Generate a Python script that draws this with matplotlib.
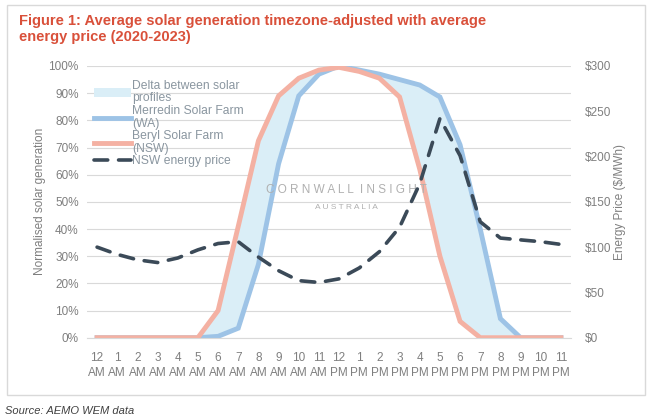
import matplotlib.pyplot as plt
from matplotlib.patches import Rectangle
from matplotlib.ticker import FuncFormatter, MultipleLocator

plt.rcParams['font.family'] = ['Liberation Sans', 'DejaVu Sans']

hours = ['12', '1', '2', '3', '4', '5', '6', '7', '8', '9', '10', '11',
         '12', '1', '2', '3', '4', '5', '6', '7', '8', '9', '10', '11']
ampm = ['AM'] * 12 + ['PM'] * 12

# normalised generation (%)
merredin = [0, 0, 0, 0, 0, 0, 0.5, 3.5, 27, 64, 89, 97,
            100, 98.5, 97, 95, 93, 88.6, 71, 40, 7, 0, 0, 0]
beryl = [0, 0, 0, 0, 0, 0, 10, 41, 72.5, 89, 95.5, 98.5,
         99.5, 98, 95.5, 88.6, 62, 30, 6, 0, 0, 0, 0, 0]
# NSW energy price ($/MWh)
price = [100, 92, 86, 83, 88, 97, 104, 106, 89, 74, 63, 61,
         65, 77, 95, 122, 170, 242, 201, 128, 110, 108, 106, 103]

x = list(range(len(hours)))
grey = '#7f7f7f'

fig = plt.figure(figsize=(6.53, 4.20), dpi=100)
fig.patches.append(Rectangle((7 / 653, 1 - 395 / 420), 638 / 653, 390 / 420,
                             transform=fig.transFigure, fill=False,
                             edgecolor='#d9d9d9', lw=1))

ax = fig.add_axes([87 / 653, 1 - 337.7 / 420, 484 / 653, 271.7 / 420])
ax2 = ax.twinx()

ax.fill_between(x, beryl, merredin, color='#daeef7', lw=0,
                label='Delta between solar\nprofiles')
ax.plot(x, merredin, color='#9dc3e6', lw=3.5, solid_joinstyle='miter',
        label='Merredin Solar Farm\n(WA)')
ax.plot(x, beryl, color='#f4b1a3', lw=3.5, solid_joinstyle='miter',
        label='Beryl Solar Farm\n(NSW)')
ln, = ax2.plot(x, price, color='#3b4a58', lw=2.6, dashes=(3.8, 3),
               dash_capstyle='round', label='NSW energy price')

ax.set_xlim(-0.5, 23.5)
ax.set_ylim(0, 100)
ax2.set_ylim(0, 300)
ax.yaxis.set_major_locator(MultipleLocator(10))
ax.yaxis.set_major_formatter(FuncFormatter(lambda v, p: f'{v:.0f}%'))
ax2.yaxis.set_major_locator(MultipleLocator(50))
ax2.yaxis.set_major_formatter(FuncFormatter(lambda v, p: f'${v:.0f}'))
ax.set_xticks(x)
ax.set_xticklabels([f'{h}\n{a}' for h, a in zip(hours, ampm)], linespacing=1.35)

ax.grid(axis='y', color='#d9d9d9', lw=0.8)
ax.set_axisbelow(True)
for a in (ax, ax2):
    for s in a.spines.values():
        s.set_visible(False)
    a.tick_params(length=0, colors=grey, labelsize=8.5)
ax.spines['bottom'].set_visible(True)
ax.spines['bottom'].set_color('#d9d9d9')
ax.tick_params(axis='y', pad=6)
ax2.tick_params(axis='y', pad=10)
ax.tick_params(axis='x', pad=10)

ax.set_ylabel('Normalised solar generation', color=grey, fontsize=8.5, labelpad=2)
ax2.set_ylabel('Energy Price ($/MWh)', color=grey, fontsize=8.5, labelpad=2)

ax.text(0.537, 0.545, 'C O R N W A L L  I N S I G H T', transform=ax.transAxes,
        ha='center', va='center', fontsize=8.5, color='#b0b0b0')
ax.text(0.537, 0.48, 'A U S T R A L I A', transform=ax.transAxes,
        ha='center', va='center', fontsize=6, color='#b0b0b0')

h, l = ax.get_legend_handles_labels()
leg = ax.legend(h + [ln], l + [ln.get_label()], loc='upper left',
                bbox_to_anchor=(0.0, 0.975), frameon=False, fontsize=8.7,
                labelspacing=0.05, handlelength=3.0, handletextpad=0.15,
                borderaxespad=0.2)
for t in leg.get_texts():
    t.set_color('#8a96a0')
    t.set_linespacing(1.05)

fig.text(19 / 653, 1 - 14 / 420,
         'Figure 1: Average solar generation timezone-adjusted with average\nenergy price (2020-2023)',
         ha='left', va='top', fontsize=10.5, fontweight='bold', color='#d9503a',
         linespacing=1.15)
fig.text(5 / 653, 1 - 411 / 420, 'Source: AEMO WEM data', ha='left', va='center',
         fontsize=8, style='italic', color='#404040')

fig.savefig('out.png', dpi=100)
